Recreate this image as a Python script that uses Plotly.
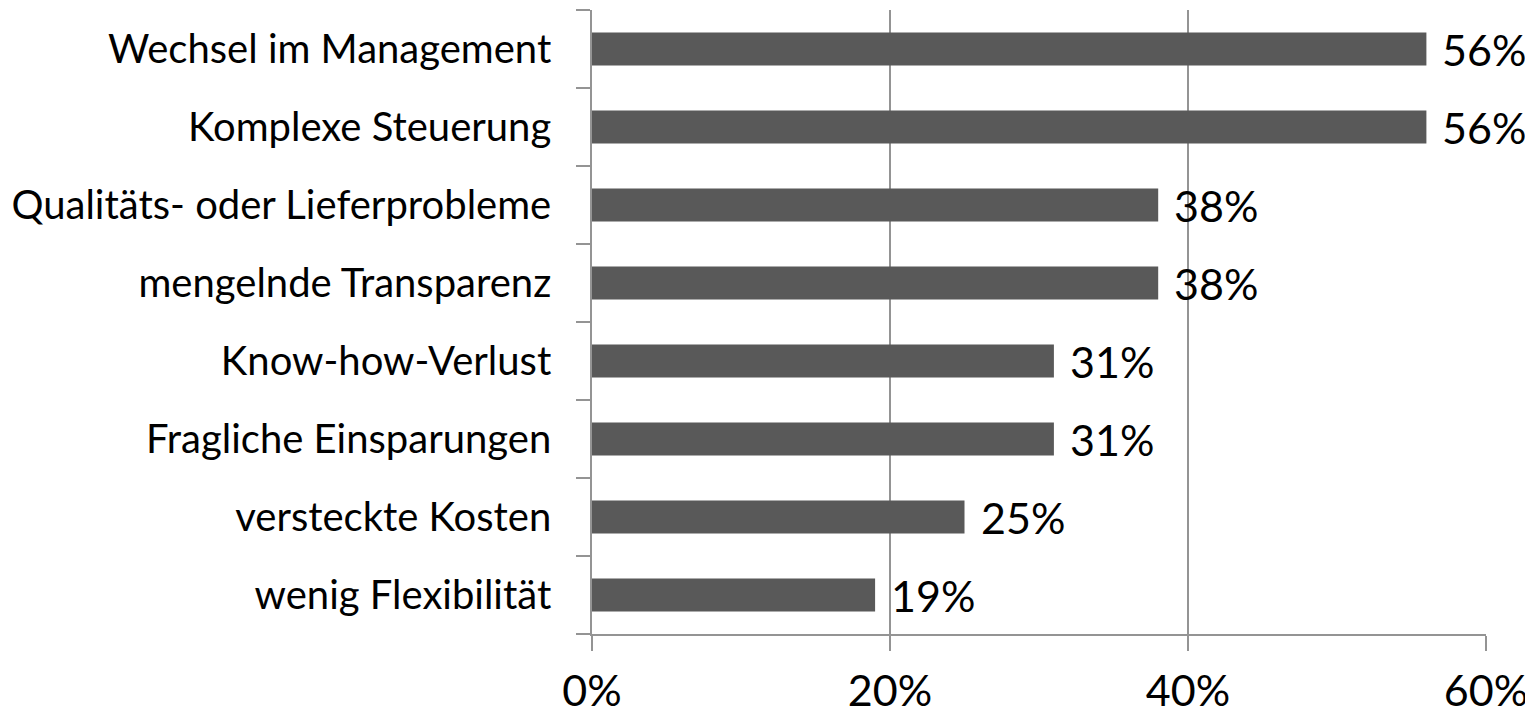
import plotly.graph_objects as go

categories = ["Wechsel im Management", "Komplexe Steuerung", "Qualitäts- oder Lieferprobleme",
              "mengelnde Transparenz", "Know-how-Verlust", "Fragliche Einsparungen",
              "versteckte Kosten", "wenig Flexibilität"]
values = [56, 56, 38, 38, 31, 31, 25, 19]
x_ticks = [0, 20, 40, 60]
x_tick_labels = ["0%", "20%", "40%", "60%"]

FONT = "Lato"
GRID = "#949494"

fig = go.Figure()
fig.add_trace(go.Bar(
    y=categories, x=values, orientation="h",
    marker=dict(color="#595959", line=dict(width=0)),
    hoverinfo="x+y",
))

for c, v in zip(categories, values):
    fig.add_annotation(x=v, y=c, xref="x", yref="y", text=f"{v}%", showarrow=False,
                       xanchor="left", yanchor="middle", xshift=14,
                       font=dict(family=FONT, size=43, color="#000000"))

fig.update_layout(
    width=1525, height=707,
    margin=dict(l=584, r=47, t=2, b=81),
    paper_bgcolor="white", plot_bgcolor="white",
    showlegend=False, bargap=0.58,
    font=dict(family=FONT, color="#000000"),
)
fig.update_xaxes(
    range=[0, 60], tickvals=x_ticks, ticktext=x_tick_labels,
    showgrid=True, gridcolor=GRID, gridwidth=1.5,
    showline=True, linecolor=GRID, linewidth=1.5,
    ticks="outside", ticklen=15, tickcolor=GRID, tickwidth=1.5,
    tickfont=dict(family=FONT, size=43, color="#000000"),
    ticklabelstandoff=4, zeroline=False, automargin=False,
)
fig.update_yaxes(
    categoryorder="array", categoryarray=categories[::-1],
    showgrid=False, showline=True, linecolor=GRID, linewidth=1.5,
    ticks="outside", ticklen=14, tickcolor=GRID, tickwidth=1.5,
    tickson="boundaries",
    tickfont=dict(family=FONT, size=40, color="#000000"),
    ticklabelstandoff=31, automargin=False,
)

fig.write_html("out.html")
